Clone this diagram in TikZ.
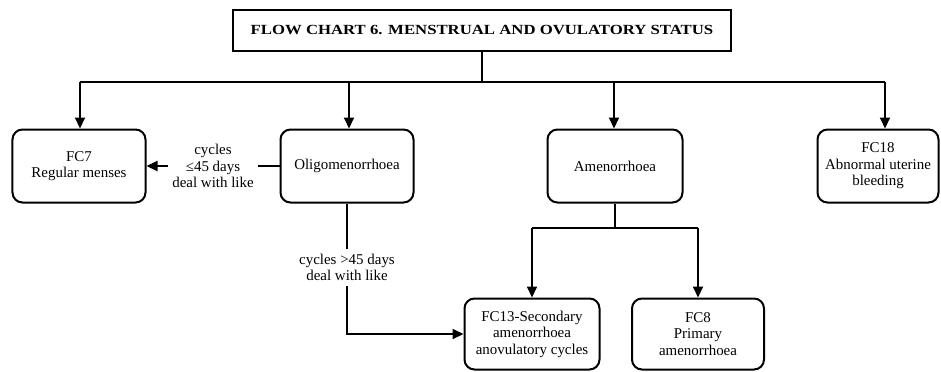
\documentclass[tikz,border=0pt]{standalone}
\usepackage{fontspec}
\setmainfont{Liberation Serif}
\usepackage{graphicx}
\usetikzlibrary{arrows.meta}

\begin{document}
\begin{tikzpicture}[x=1bp, y=-1bp,
  line width=2bp,
  every node/.style={font=\fontsize{15}{16.5}\selectfont, align=center, inner sep=0pt},
  box/.style={draw, rounded corners=10bp, minimum height=73bp},
  titlebox/.style={draw, minimum width=497bp, minimum height=41bp},
  lbl/.style={fill=white, inner xsep=4bp, inner ysep=5bp},
  arr/.style={-{Triangle[length=11bp,width=10bp]}}
]
\useasboundingbox (0,0) rectangle (941,371);

% heading
\node[titlebox] (title) at (482,30)
  {\scalebox{1.2}[1]{\fontsize{14}{16}\selectfont\bfseries FLOW CHART 6. MENSTRUAL AND OVULATORY STATUS}};

% first row
\node[box, minimum width=133bp] (fc7)   at (79,166)  {FC7\\Regular menses};
\node[box, minimum width=133bp] (oligo) at (347,166) {Oligomenorrhoea};
\node[box, minimum width=135bp] (amen)  at (615,166) {Amenorrhoea};
\node[box, minimum width=121bp] (fc18)  at (878,166) {FC18\\Abnormal uterine\\bleeding};

% second row
\node[box, minimum width=135bp, minimum height=71bp] (fc13) at (532,334)
  {FC13-Secondary\\amenorrhoea\\anovulatory cycles};
\node[box, minimum width=132bp, minimum height=71bp] (fc8) at (698,334)
  {FC8\\Primary\\amenorrhoea};

% distribution bus under the heading
\coordinate (bus) at (482,82);
\coordinate (busL) at (80,82);
\coordinate (busR) at (885,82);
\coordinate (dropO) at (349,82);
\coordinate (dropA) at (614,82);
\draw (title.south) -- (bus);
\draw (busL) -- (busR);
\draw[arr] (busL) -- (busL |- fc7.north);
\draw[arr] (dropO) -- (dropO |- oligo.north);
\draw[arr] (dropA) -- (dropA |- amen.north);
\draw[arr] (busR) -- (busR |- fc18.north);

% oligomenorrhoea -> regular menses
\draw[arr] (oligo.west) -- node[lbl] (short) {cycles\\≤45 days\\deal with like} (fc7.east);

% oligomenorrhoea -> secondary amenorrhoea
\coordinate (bend) at (oligo.south |- fc13.west);
\draw[arr] (oligo.south) -- node[lbl, pos=0.49] (long) {cycles >45 days\\deal with like} (bend) -- (fc13.west);

% amenorrhoea split
\coordinate (split) at (615,228);
\coordinate (splitL) at (fc13.north |- split);
\coordinate (splitR) at (fc8.north |- split);
\draw (amen.south) -- (split);
\draw (splitL) -- (splitR);
\draw[arr] (splitL) -- (fc13.north);
\draw[arr] (splitR) -- (fc8.north);
\end{tikzpicture}
\end{document}
